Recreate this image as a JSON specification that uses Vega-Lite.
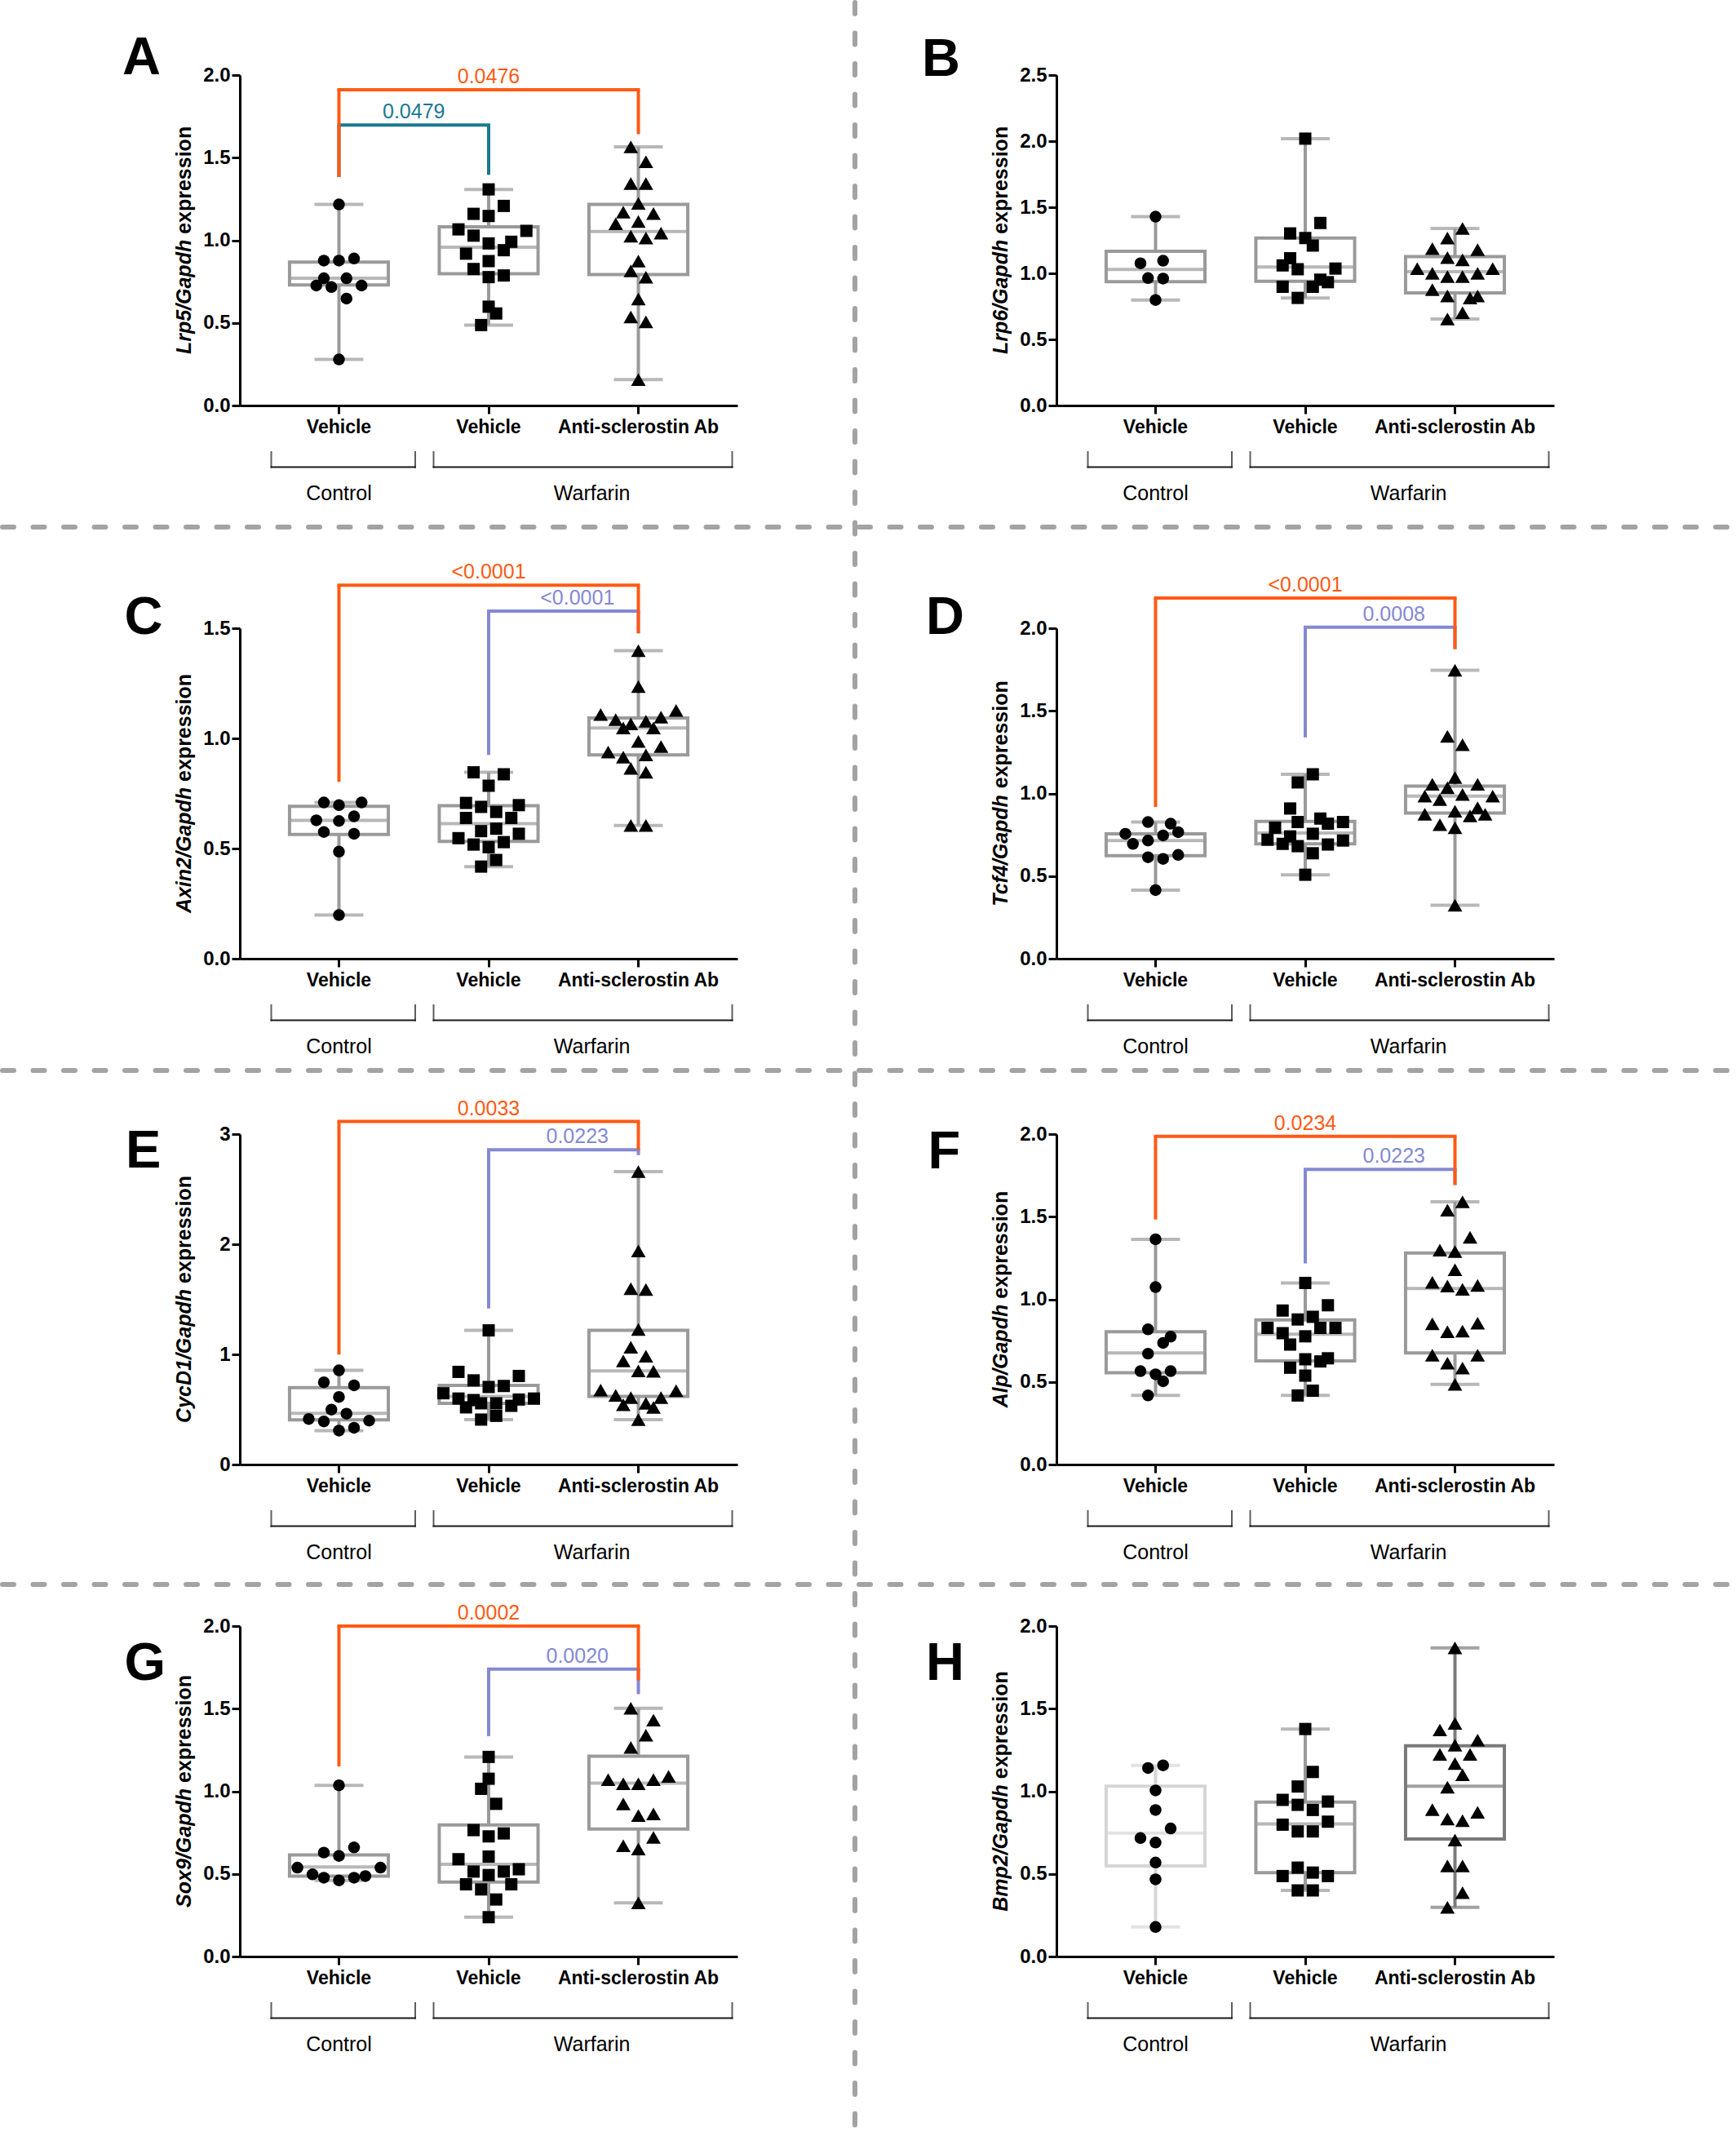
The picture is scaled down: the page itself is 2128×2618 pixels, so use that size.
{
"$schema":"https://vega.github.io/schema/vega-lite/v6.json",
"padding":0,
"background":"white",
"columns":2,
"spacing":{"row":0,"column":391},
"bounds":"flush",
"datasets":{
"cats":[{"c":"CV","w":"WV"}],
"box":[
{"p":"A","g":"CV","min":0.279,"q1":0.73,"med":0.77,"q3":0.868,"max":1.217},
{"p":"A","g":"WV","min":0.487,"q1":0.798,"med":0.958,"q3":1.081,"max":1.308},
{"p":"A","g":"WA","min":0.157,"q1":0.792,"med":1.053,"q3":1.217,"max":1.566},
{"p":"B","g":"CV","min":0.798,"q1":0.936,"med":1.029,"q3":1.167,"max":1.429},
{"p":"B","g":"WV","min":0.814,"q1":0.94,"med":1.048,"q3":1.267,"max":2.019},
{"p":"B","g":"WA","min":0.655,"q1":0.852,"med":1.012,"q3":1.126,"max":1.34},
{"p":"C","g":"CV","min":0.198,"q1":0.564,"med":0.628,"q3":0.692,"max":0.709},
{"p":"C","g":"WV","min":0.418,"q1":0.532,"med":0.613,"q3":0.694,"max":0.846},
{"p":"C","g":"WA","min":0.605,"q1":0.925,"med":1.047,"q3":1.093,"max":1.398},
{"p":"D","g":"CV","min":0.415,"q1":0.624,"med":0.715,"q3":0.756,"max":0.827},
{"p":"D","g":"WV","min":0.508,"q1":0.695,"med":0.76,"q3":0.831,"max":1.116},
{"p":"D","g":"WA","min":0.323,"q1":0.882,"med":0.984,"q3":1.045,"max":1.746},
{"p":"E","g":"CV","min":0.308,"q1":0.405,"med":0.465,"q3":0.699,"max":0.855},
{"p":"E","g":"WV","min":0.408,"q1":0.556,"med":0.619,"q3":0.719,"max":1.218},
{"p":"E","g":"WA","min":0.408,"q1":0.619,"med":0.85,"q3":1.218,"max":2.66},
{"p":"F","g":"CV","min":0.418,"q1":0.555,"med":0.675,"q3":0.804,"max":1.363},
{"p":"F","g":"WV","min":0.418,"q1":0.627,"med":0.789,"q3":0.875,"max":1.099},
{"p":"F","g":"WA","min":0.485,"q1":0.675,"med":1.065,"q3":1.28,"max":1.59},
{"p":"G","g":"CV","min":0.461,"q1":0.487,"med":0.542,"q3":0.615,"max":1.036},
{"p":"G","g":"WV","min":0.238,"q1":0.451,"med":0.558,"q3":0.796,"max":1.208},
{"p":"G","g":"WA","min":0.325,"q1":0.772,"med":1.05,"q3":1.212,"max":1.503},
{"p":"H","g":"CV","min":0.179,"q1":0.548,"med":0.747,"q3":1.031,"max":1.157},
{"p":"H","g":"WV","min":0.4,"q1":0.508,"med":0.802,"q3":0.934,"max":1.377},
{"p":"H","g":"WA","min":0.298,"q1":0.711,"med":1.031,"q3":1.275,"max":1.868}
],
"sig":[
{"p":"A","c":"cv","from":"CV","to":"WV","top":1.698,"l1":1.383,"l2":1.396,"pv":"0.0479"},
{"p":"A","c":"ca","from":"CV","to":"WA","top":1.911,"l1":1.383,"l2":1.642,"pv":"0.0476"},
{"p":"C","c":"va","from":"WV","to":"WA","top":1.578,"l1":0.925,"l2":1.477,"pv":"<0.0001"},
{"p":"C","c":"ca","from":"CV","to":"WA","top":1.695,"l1":0.803,"l2":1.477,"pv":"<0.0001"},
{"p":"D","c":"va","from":"WV","to":"WA","top":2.006,"l1":1.339,"l2":1.874,"pv":"0.0008"},
{"p":"D","c":"ca","from":"CV","to":"WA","top":2.183,"l1":0.919,"l2":1.874,"pv":"<0.0001"},
{"p":"E","c":"va","from":"WV","to":"WA","top":2.857,"l1":1.417,"l2":2.809,"pv":"0.0223"},
{"p":"E","c":"ca","from":"CV","to":"WA","top":3.114,"l1":0.998,"l2":2.857,"pv":"0.0033"},
{"p":"F","c":"va","from":"WV","to":"WA","top":1.787,"l1":1.217,"l2":1.692,"pv":"0.0223"},
{"p":"F","c":"ca","from":"CV","to":"WA","top":1.987,"l1":1.483,"l2":1.692,"pv":"0.0234"},
{"p":"G","c":"va","from":"WV","to":"WA","top":1.74,"l1":1.334,"l2":1.588,"pv":"0.0020"},
{"p":"G","c":"ca","from":"CV","to":"WA","top":2.0,"l1":1.151,"l2":1.671,"pv":"0.0002"}
],
"pts":[
{"p":"A","g":"CV","v":1.217,"l":0},{"p":"A","g":"CV","v":0.877,"l":-2},{"p":"A","g":"CV","v":0.877,"l":0},{"p":"A","g":"CV","v":0.89,"l":2},{"p":"A","g":"CV","v":0.77,"l":-2},{"p":"A","g":"CV","v":0.77,"l":1},{"p":"A","g":"CV","v":0.726,"l":-3},{"p":"A","g":"CV","v":0.717,"l":-1},{"p":"A","g":"CV","v":0.726,"l":3},{"p":"A","g":"CV","v":0.647,"l":1},{"p":"A","g":"CV","v":0.279,"l":0},
{"p":"A","g":"WV","v":1.308,"l":0},{"p":"A","g":"WV","v":1.208,"l":2},{"p":"A","g":"WV","v":1.16,"l":-2},{"p":"A","g":"WV","v":1.147,"l":0},{"p":"A","g":"WV","v":1.066,"l":-4},{"p":"A","g":"WV","v":1.057,"l":5},{"p":"A","g":"WV","v":1.028,"l":-2},{"p":"A","g":"WV","v":0.981,"l":0},{"p":"A","g":"WV","v":0.991,"l":3},{"p":"A","g":"WV","v":0.919,"l":-3},{"p":"A","g":"WV","v":0.94,"l":2},{"p":"A","g":"WV","v":0.874,"l":0},{"p":"A","g":"WV","v":0.826,"l":-2},{"p":"A","g":"WV","v":0.777,"l":0},{"p":"A","g":"WV","v":0.787,"l":2},{"p":"A","g":"WV","v":0.598,"l":0},{"p":"A","g":"WV","v":0.557,"l":1},{"p":"A","g":"WV","v":0.487,"l":-1},
{"p":"A","g":"WA","v":1.566,"l":-1},{"p":"A","g":"WA","v":1.475,"l":1},{"p":"A","g":"WA","v":1.343,"l":-1},{"p":"A","g":"WA","v":1.343,"l":1},{"p":"A","g":"WA","v":1.223,"l":0},{"p":"A","g":"WA","v":1.17,"l":-2},{"p":"A","g":"WA","v":1.162,"l":2},{"p":"A","g":"WA","v":1.1,"l":-3},{"p":"A","g":"WA","v":1.113,"l":0},{"p":"A","g":"WA","v":1.025,"l":-1},{"p":"A","g":"WA","v":1.013,"l":1},{"p":"A","g":"WA","v":1.043,"l":3},{"p":"A","g":"WA","v":0.874,"l":0},{"p":"A","g":"WA","v":0.815,"l":-1},{"p":"A","g":"WA","v":0.777,"l":1},{"p":"A","g":"WA","v":0.645,"l":0},{"p":"A","g":"WA","v":0.536,"l":-1},{"p":"A","g":"WA","v":0.506,"l":1},{"p":"A","g":"WA","v":0.157,"l":0},
{"p":"B","g":"CV","v":1.429,"l":0},{"p":"B","g":"CV","v":1.076,"l":-2},{"p":"B","g":"CV","v":1.095,"l":1},{"p":"B","g":"CV","v":0.964,"l":-1},{"p":"B","g":"CV","v":0.96,"l":1},{"p":"B","g":"CV","v":0.798,"l":0},
{"p":"B","g":"WV","v":2.019,"l":0},{"p":"B","g":"WV","v":1.381,"l":2},{"p":"B","g":"WV","v":1.302,"l":-2},{"p":"B","g":"WV","v":1.267,"l":0},{"p":"B","g":"WV","v":1.21,"l":1},{"p":"B","g":"WV","v":1.114,"l":-2},{"p":"B","g":"WV","v":1.06,"l":-3},{"p":"B","g":"WV","v":1.036,"l":4},{"p":"B","g":"WV","v":1.031,"l":-1},{"p":"B","g":"WV","v":0.952,"l":2},{"p":"B","g":"WV","v":0.933,"l":3},{"p":"B","g":"WV","v":0.898,"l":-3},{"p":"B","g":"WV","v":0.898,"l":1},{"p":"B","g":"WV","v":0.814,"l":-1},
{"p":"B","g":"WA","v":1.34,"l":1},{"p":"B","g":"WA","v":1.267,"l":-1},{"p":"B","g":"WA","v":1.186,"l":-3},{"p":"B","g":"WA","v":1.179,"l":3},{"p":"B","g":"WA","v":1.119,"l":-1},{"p":"B","g":"WA","v":1.102,"l":1},{"p":"B","g":"WA","v":1.036,"l":-5},{"p":"B","g":"WA","v":1.036,"l":5},{"p":"B","g":"WA","v":1.0,"l":-3},{"p":"B","g":"WA","v":1.0,"l":3},{"p":"B","g":"WA","v":0.976,"l":-1},{"p":"B","g":"WA","v":0.976,"l":1},{"p":"B","g":"WA","v":0.876,"l":-3},{"p":"B","g":"WA","v":0.829,"l":-1},{"p":"B","g":"WA","v":0.829,"l":3},{"p":"B","g":"WA","v":0.814,"l":2},{"p":"B","g":"WA","v":0.702,"l":1},{"p":"B","g":"WA","v":0.655,"l":-1},
{"p":"C","g":"CV","v":0.709,"l":-2},{"p":"C","g":"CV","v":0.697,"l":0},{"p":"C","g":"CV","v":0.709,"l":3},{"p":"C","g":"CV","v":0.646,"l":2},{"p":"C","g":"CV","v":0.628,"l":-3},{"p":"C","g":"CV","v":0.625,"l":0},{"p":"C","g":"CV","v":0.575,"l":-2},{"p":"C","g":"CV","v":0.567,"l":2},{"p":"C","g":"CV","v":0.486,"l":0},{"p":"C","g":"CV","v":0.198,"l":0},
{"p":"C","g":"WV","v":0.846,"l":-2},{"p":"C","g":"WV","v":0.837,"l":2},{"p":"C","g":"WV","v":0.785,"l":0},{"p":"C","g":"WV","v":0.707,"l":-3},{"p":"C","g":"WV","v":0.697,"l":4},{"p":"C","g":"WV","v":0.689,"l":-1},{"p":"C","g":"WV","v":0.666,"l":1},{"p":"C","g":"WV","v":0.639,"l":-3},{"p":"C","g":"WV","v":0.639,"l":3},{"p":"C","g":"WV","v":0.579,"l":-1},{"p":"C","g":"WV","v":0.59,"l":1},{"p":"C","g":"WV","v":0.567,"l":4},{"p":"C","g":"WV","v":0.547,"l":-4},{"p":"C","g":"WV","v":0.529,"l":2},{"p":"C","g":"WV","v":0.518,"l":-2},{"p":"C","g":"WV","v":0.506,"l":0},{"p":"C","g":"WV","v":0.448,"l":1},{"p":"C","g":"WV","v":0.418,"l":-1},
{"p":"C","g":"WA","v":1.398,"l":0},{"p":"C","g":"WA","v":1.235,"l":0},{"p":"C","g":"WA","v":1.108,"l":-5},{"p":"C","g":"WA","v":1.127,"l":5},{"p":"C","g":"WA","v":1.085,"l":-3},{"p":"C","g":"WA","v":1.078,"l":1},{"p":"C","g":"WA","v":1.096,"l":3},{"p":"C","g":"WA","v":1.066,"l":-1},{"p":"C","g":"WA","v":1.047,"l":-2},{"p":"C","g":"WA","v":1.047,"l":2},{"p":"C","g":"WA","v":0.986,"l":0},{"p":"C","g":"WA","v":0.963,"l":3},{"p":"C","g":"WA","v":0.938,"l":-4},{"p":"C","g":"WA","v":0.915,"l":-2},{"p":"C","g":"WA","v":0.925,"l":1},{"p":"C","g":"WA","v":0.864,"l":-1},{"p":"C","g":"WA","v":0.846,"l":1},{"p":"C","g":"WA","v":0.605,"l":-1},{"p":"C","g":"WA","v":0.605,"l":1},
{"p":"D","g":"CV","v":0.827,"l":-1},{"p":"D","g":"CV","v":0.817,"l":2},{"p":"D","g":"CV","v":0.756,"l":-4},{"p":"D","g":"CV","v":0.746,"l":1},{"p":"D","g":"CV","v":0.766,"l":3},{"p":"D","g":"CV","v":0.695,"l":-3},{"p":"D","g":"CV","v":0.715,"l":-1},{"p":"D","g":"CV","v":0.628,"l":3},{"p":"D","g":"CV","v":0.614,"l":-1},{"p":"D","g":"CV","v":0.604,"l":1},{"p":"D","g":"CV","v":0.415,"l":0},
{"p":"D","g":"WV","v":1.116,"l":1},{"p":"D","g":"WV","v":1.067,"l":-1},{"p":"D","g":"WV","v":0.909,"l":-2},{"p":"D","g":"WV","v":0.827,"l":-1},{"p":"D","g":"WV","v":0.848,"l":2},{"p":"D","g":"WV","v":0.817,"l":3},{"p":"D","g":"WV","v":0.827,"l":5},{"p":"D","g":"WV","v":0.793,"l":-4},{"p":"D","g":"WV","v":0.74,"l":-2},{"p":"D","g":"WV","v":0.756,"l":1},{"p":"D","g":"WV","v":0.72,"l":-5},{"p":"D","g":"WV","v":0.715,"l":5},{"p":"D","g":"WV","v":0.695,"l":-3},{"p":"D","g":"WV","v":0.691,"l":3},{"p":"D","g":"WV","v":0.681,"l":-1},{"p":"D","g":"WV","v":0.638,"l":1},{"p":"D","g":"WV","v":0.508,"l":0},
{"p":"D","g":"WA","v":1.746,"l":0},{"p":"D","g":"WA","v":1.346,"l":-1},{"p":"D","g":"WA","v":1.295,"l":1},{"p":"D","g":"WA","v":1.096,"l":0},{"p":"D","g":"WA","v":1.055,"l":-3},{"p":"D","g":"WA","v":1.055,"l":3},{"p":"D","g":"WA","v":1.035,"l":-1},{"p":"D","g":"WA","v":0.984,"l":-4},{"p":"D","g":"WA","v":0.994,"l":1},{"p":"D","g":"WA","v":0.984,"l":5},{"p":"D","g":"WA","v":0.963,"l":-2},{"p":"D","g":"WA","v":0.913,"l":3},{"p":"D","g":"WA","v":0.892,"l":0},{"p":"D","g":"WA","v":0.874,"l":-4},{"p":"D","g":"WA","v":0.864,"l":2},{"p":"D","g":"WA","v":0.874,"l":4},{"p":"D","g":"WA","v":0.811,"l":-2},{"p":"D","g":"WA","v":0.793,"l":0},{"p":"D","g":"WA","v":0.323,"l":0},
{"p":"E","g":"CV","v":0.855,"l":0},{"p":"E","g":"CV","v":0.747,"l":-2},{"p":"E","g":"CV","v":0.719,"l":2},{"p":"E","g":"CV","v":0.613,"l":0},{"p":"E","g":"CV","v":0.499,"l":-1},{"p":"E","g":"CV","v":0.462,"l":1},{"p":"E","g":"CV","v":0.413,"l":-4},{"p":"E","g":"CV","v":0.391,"l":-2},{"p":"E","g":"CV","v":0.399,"l":4},{"p":"E","g":"CV","v":0.308,"l":0},{"p":"E","g":"CV","v":0.334,"l":2},
{"p":"E","g":"WV","v":1.218,"l":0},{"p":"E","g":"WV","v":0.841,"l":-4},{"p":"E","g":"WV","v":0.764,"l":-2},{"p":"E","g":"WV","v":0.804,"l":4},{"p":"E","g":"WV","v":0.704,"l":0},{"p":"E","g":"WV","v":0.713,"l":2},{"p":"E","g":"WV","v":0.647,"l":-6},{"p":"E","g":"WV","v":0.599,"l":-4},{"p":"E","g":"WV","v":0.585,"l":-2},{"p":"E","g":"WV","v":0.599,"l":6},{"p":"E","g":"WV","v":0.59,"l":4},{"p":"E","g":"WV","v":0.556,"l":-1},{"p":"E","g":"WV","v":0.556,"l":1},{"p":"E","g":"WV","v":0.519,"l":-3},{"p":"E","g":"WV","v":0.533,"l":3},{"p":"E","g":"WV","v":0.408,"l":-1},{"p":"E","g":"WV","v":0.442,"l":1},
{"p":"E","g":"WA","v":2.66,"l":0},{"p":"E","g":"WA","v":1.939,"l":0},{"p":"E","g":"WA","v":1.597,"l":-1},{"p":"E","g":"WA","v":1.588,"l":1},{"p":"E","g":"WA","v":1.226,"l":0},{"p":"E","g":"WA","v":1.064,"l":-1},{"p":"E","g":"WA","v":0.984,"l":1},{"p":"E","g":"WA","v":0.941,"l":-2},{"p":"E","g":"WA","v":0.85,"l":0},{"p":"E","g":"WA","v":0.847,"l":2},{"p":"E","g":"WA","v":0.676,"l":-5},{"p":"E","g":"WA","v":0.67,"l":5},{"p":"E","g":"WA","v":0.627,"l":-3},{"p":"E","g":"WA","v":0.607,"l":-1},{"p":"E","g":"WA","v":0.607,"l":3},{"p":"E","g":"WA","v":0.542,"l":-2},{"p":"E","g":"WA","v":0.556,"l":1},{"p":"E","g":"WA","v":0.519,"l":2},{"p":"E","g":"WA","v":0.408,"l":0},
{"p":"F","g":"CV","v":1.363,"l":0},{"p":"F","g":"CV","v":1.074,"l":0},{"p":"F","g":"CV","v":0.818,"l":-1},{"p":"F","g":"CV","v":0.774,"l":2},{"p":"F","g":"CV","v":0.736,"l":1},{"p":"F","g":"CV","v":0.671,"l":-1},{"p":"F","g":"CV","v":0.565,"l":-2},{"p":"F","g":"CV","v":0.565,"l":2},{"p":"F","g":"CV","v":0.546,"l":0},{"p":"F","g":"CV","v":0.504,"l":1},{"p":"F","g":"CV","v":0.418,"l":-1},
{"p":"F","g":"WV","v":1.099,"l":0},{"p":"F","g":"WV","v":0.964,"l":3},{"p":"F","g":"WV","v":0.932,"l":-3},{"p":"F","g":"WV","v":0.894,"l":1},{"p":"F","g":"WV","v":0.878,"l":-1},{"p":"F","g":"WV","v":0.827,"l":-5},{"p":"F","g":"WV","v":0.827,"l":2},{"p":"F","g":"WV","v":0.827,"l":4},{"p":"F","g":"WV","v":0.795,"l":-3},{"p":"F","g":"WV","v":0.776,"l":0},{"p":"F","g":"WV","v":0.726,"l":-2},{"p":"F","g":"WV","v":0.643,"l":3},{"p":"F","g":"WV","v":0.637,"l":0},{"p":"F","g":"WV","v":0.624,"l":2},{"p":"F","g":"WV","v":0.586,"l":-2},{"p":"F","g":"WV","v":0.538,"l":0},{"p":"F","g":"WV","v":0.447,"l":1},{"p":"F","g":"WV","v":0.418,"l":-1},
{"p":"F","g":"WA","v":1.59,"l":1},{"p":"F","g":"WA","v":1.54,"l":-1},{"p":"F","g":"WA","v":1.375,"l":2},{"p":"F","g":"WA","v":1.298,"l":-2},{"p":"F","g":"WA","v":1.289,"l":0},{"p":"F","g":"WA","v":1.179,"l":0},{"p":"F","g":"WA","v":1.103,"l":-3},{"p":"F","g":"WA","v":1.08,"l":-1},{"p":"F","g":"WA","v":1.061,"l":1},{"p":"F","g":"WA","v":1.084,"l":3},{"p":"F","g":"WA","v":0.852,"l":-3},{"p":"F","g":"WA","v":0.856,"l":3},{"p":"F","g":"WA","v":0.804,"l":-1},{"p":"F","g":"WA","v":0.808,"l":1},{"p":"F","g":"WA","v":0.662,"l":-3},{"p":"F","g":"WA","v":0.662,"l":3},{"p":"F","g":"WA","v":0.614,"l":-1},{"p":"F","g":"WA","v":0.584,"l":1},{"p":"F","g":"WA","v":0.485,"l":0},
{"p":"G","g":"CV","v":1.036,"l":0},{"p":"G","g":"CV","v":0.66,"l":2},{"p":"G","g":"CV","v":0.629,"l":-2},{"p":"G","g":"CV","v":0.609,"l":0},{"p":"G","g":"CV","v":0.538,"l":-5.5},{"p":"G","g":"CV","v":0.538,"l":5.5},{"p":"G","g":"CV","v":0.497,"l":-3.5},{"p":"G","g":"CV","v":0.487,"l":3.5},{"p":"G","g":"CV","v":0.477,"l":-2},{"p":"G","g":"CV","v":0.477,"l":2},{"p":"G","g":"CV","v":0.461,"l":0},
{"p":"G","g":"WV","v":1.208,"l":0},{"p":"G","g":"WV","v":1.076,"l":0},{"p":"G","g":"WV","v":1.015,"l":-1},{"p":"G","g":"WV","v":0.924,"l":1},{"p":"G","g":"WV","v":0.765,"l":-2},{"p":"G","g":"WV","v":0.745,"l":2},{"p":"G","g":"WV","v":0.727,"l":0},{"p":"G","g":"WV","v":0.589,"l":-4},{"p":"G","g":"WV","v":0.605,"l":0},{"p":"G","g":"WV","v":0.514,"l":-2},{"p":"G","g":"WV","v":0.514,"l":2},{"p":"G","g":"WV","v":0.528,"l":4},{"p":"G","g":"WV","v":0.493,"l":0},{"p":"G","g":"WV","v":0.437,"l":-3},{"p":"G","g":"WV","v":0.437,"l":3},{"p":"G","g":"WV","v":0.406,"l":-1},{"p":"G","g":"WV","v":0.345,"l":1},{"p":"G","g":"WV","v":0.238,"l":0},
{"p":"G","g":"WA","v":1.503,"l":-1},{"p":"G","g":"WA","v":1.431,"l":2},{"p":"G","g":"WA","v":1.34,"l":1},{"p":"G","g":"WA","v":1.265,"l":-1},{"p":"G","g":"WA","v":1.07,"l":-4},{"p":"G","g":"WA","v":1.09,"l":4},{"p":"G","g":"WA","v":1.046,"l":-2},{"p":"G","g":"WA","v":1.046,"l":0},{"p":"G","g":"WA","v":1.07,"l":2},{"p":"G","g":"WA","v":0.924,"l":-2},{"p":"G","g":"WA","v":0.853,"l":0},{"p":"G","g":"WA","v":0.863,"l":2},{"p":"G","g":"WA","v":0.721,"l":2},{"p":"G","g":"WA","v":0.67,"l":-2},{"p":"G","g":"WA","v":0.65,"l":0},{"p":"G","g":"WA","v":0.325,"l":0},
{"p":"H","g":"CV","v":1.141,"l":-1},{"p":"H","g":"CV","v":1.157,"l":1},{"p":"H","g":"CV","v":1.005,"l":0},{"p":"H","g":"CV","v":0.887,"l":0},{"p":"H","g":"CV","v":0.775,"l":2},{"p":"H","g":"CV","v":0.717,"l":-2},{"p":"H","g":"CV","v":0.69,"l":0},{"p":"H","g":"CV","v":0.569,"l":0},{"p":"H","g":"CV","v":0.467,"l":0},{"p":"H","g":"CV","v":0.179,"l":0},
{"p":"H","g":"WV","v":1.377,"l":0},{"p":"H","g":"WV","v":1.117,"l":1},{"p":"H","g":"WV","v":1.029,"l":-1},{"p":"H","g":"WV","v":0.948,"l":-3},{"p":"H","g":"WV","v":0.938,"l":3},{"p":"H","g":"WV","v":0.918,"l":-1},{"p":"H","g":"WV","v":0.887,"l":1},{"p":"H","g":"WV","v":0.816,"l":3},{"p":"H","g":"WV","v":0.798,"l":-3},{"p":"H","g":"WV","v":0.757,"l":-1},{"p":"H","g":"WV","v":0.757,"l":1},{"p":"H","g":"WV","v":0.538,"l":-1},{"p":"H","g":"WV","v":0.487,"l":-3},{"p":"H","g":"WV","v":0.508,"l":1},{"p":"H","g":"WV","v":0.487,"l":3},{"p":"H","g":"WV","v":0.4,"l":-1},{"p":"H","g":"WV","v":0.4,"l":1},
{"p":"H","g":"WA","v":1.868,"l":0},{"p":"H","g":"WA","v":1.411,"l":0},{"p":"H","g":"WA","v":1.371,"l":-2},{"p":"H","g":"WA","v":1.279,"l":0},{"p":"H","g":"WA","v":1.31,"l":3},{"p":"H","g":"WA","v":1.224,"l":-2},{"p":"H","g":"WA","v":1.224,"l":2},{"p":"H","g":"WA","v":1.168,"l":0},{"p":"H","g":"WA","v":1.1,"l":1},{"p":"H","g":"WA","v":1.025,"l":-1},{"p":"H","g":"WA","v":0.889,"l":-3},{"p":"H","g":"WA","v":0.873,"l":3},{"p":"H","g":"WA","v":0.832,"l":-1},{"p":"H","g":"WA","v":0.822,"l":1},{"p":"H","g":"WA","v":0.705,"l":0},{"p":"H","g":"WA","v":0.548,"l":-1},{"p":"H","g":"WA","v":0.548,"l":1},{"p":"H","g":"WA","v":0.386,"l":1},{"p":"H","g":"WA","v":0.298,"l":-1}
]
},
"concat":[
{"width":610,"height":405,"resolve":{"scale":{"xOffset":"independent"}},"layer":[
{"data":{"name":"box"},"transform":[{"filter":"datum.p=='A'"}],"mark":{"type":"rule","color":"#9a9a9a","strokeWidth":4},"encoding":{"x":{"field":"g","type":"nominal","scale":{"domain":["CV","WV","WA"],"paddingInner":0,"paddingOuter":0.162},"axis":{"title":null,"labelAngle":0,"labelExpr":"datum.value=='WA'?'Anti-sclerostin Ab':'Vehicle'"}},"y":{"field":"min","type":"quantitative","scale":{"domain":[0,2],"nice":false},"axis":{"title":null,"values":[0,0.5,1,1.5,2],"format":".1f"}},"y2":{"field":"max"}}},
{"data":{"name":"box"},"transform":[{"filter":"datum.p=='A'"},{"fold":["min","max"]}],"mark":{"type":"tick","color":"#9a9a9a","size":60,"thickness":4},"encoding":{"x":{"field":"g","type":"nominal"},"y":{"field":"value","type":"quantitative"}}},
{"data":{"name":"box"},"transform":[{"filter":"datum.p=='A'"}],"mark":{"type":"bar","fill":"white","stroke":"#9a9a9a","strokeWidth":4,"width":{"band":0.66}},"encoding":{"x":{"field":"g","type":"nominal"},"y":{"field":"q1","type":"quantitative"},"y2":{"field":"q3"}}},
{"data":{"name":"box"},"transform":[{"filter":"datum.p=='A'"}],"mark":{"type":"tick","color":"#9a9a9a","size":121,"thickness":4},"encoding":{"x":{"field":"g","type":"nominal"},"y":{"field":"med","type":"quantitative"}}},
{"data":{"name":"pts"},"transform":[{"filter":"datum.p=='A'"}],"mark":{"type":"point","filled":true,"color":"black","opacity":1},"encoding":{"x":{"field":"g","type":"nominal"},"xOffset":{"field":"l","type":"quantitative","scale":{"domain":[-6,6],"range":[36.26,147.26]}},"y":{"field":"v","type":"quantitative"},"shape":{"field":"g","type":"nominal","scale":{"domain":["CV","WV","WA"],"range":["circle","square","triangle-up"]},"legend":null},"size":{"condition":[{"test":"datum.g=='CV'","value":210},{"test":"datum.g=='WV'","value":225}],"value":320}}},
{"data":{"name":"sig"},"transform":[{"filter":"datum.p=='A'"}],"mark":{"type":"rule","strokeWidth":4,"strokeCap":"square"},"encoding":{"x":{"field":"from","type":"nominal"},"x2":{"field":"to"},"y":{"field":"top","type":"quantitative"},"color":{"condition":[{"test":"datum.c=='ca'","value":"#ff5a14"},{"test":"datum.c=='cv'","value":"#1a7892"}],"value":"#8489d4"}}},
{"data":{"name":"sig"},"transform":[{"filter":"datum.p=='A'"}],"mark":{"type":"rule","strokeWidth":4},"encoding":{"x":{"field":"from","type":"nominal"},"y":{"field":"top","type":"quantitative"},"y2":{"field":"l1"},"color":{"condition":[{"test":"datum.c=='ca'","value":"#ff5a14"},{"test":"datum.c=='cv'","value":"#1a7892"}],"value":"#8489d4"}}},
{"data":{"name":"sig"},"transform":[{"filter":"datum.p=='A'"}],"mark":{"type":"rule","strokeWidth":4},"encoding":{"x":{"field":"to","type":"nominal"},"y":{"field":"top","type":"quantitative"},"y2":{"field":"l2"},"color":{"condition":[{"test":"datum.c=='ca'","value":"#ff5a14"},{"test":"datum.c=='cv'","value":"#1a7892"}],"value":"#8489d4"}}},
{"data":{"name":"sig"},"transform":[{"filter":"datum.p=='A'&&datum.c=='ca'"}],"mark":{"type":"text","fontSize":25,"baseline":"alphabetic","dy":-8},"encoding":{"x":{"field":"to","type":"nominal","bandPosition":-0.5},"y":{"field":"top","type":"quantitative"},"text":{"field":"pv"},"color":{"value":"#ff5a14"}}},
{"data":{"name":"sig"},"transform":[{"filter":"datum.p=='A'&&datum.c!='ca'"}],"mark":{"type":"text","fontSize":25,"baseline":"alphabetic","dy":-8,"dx":0},"encoding":{"x":{"field":"to","type":"nominal","bandPosition":0},"y":{"field":"top","type":"quantitative"},"text":{"field":"pv"},"color":{"condition":[{"test":"datum.c=='cv'","value":"#1a7892"}],"value":"#8489d4"}}},
{"data":{"name":"cats"},"mark":{"type":"rule","strokeWidth":2,"strokeCap":"square","color":"#1a1a1a"},"encoding":{"x":{"field":"c","type":"nominal","bandPosition":0.0478},"x2":{"field":"c","bandPosition":1.0096},"y":{"datum":-0.3728}}},
{"data":{"name":"cats"},"mark":{"type":"rule","strokeWidth":2,"strokeCap":"square","color":"#1a1a1a"},"encoding":{"x":{"field":"w","type":"nominal","bandPosition":0.1322},"x2":{"field":"w","bandPosition":2.1266},"y":{"datum":-0.3728}}},
{"data":{"name":"cats"},"mark":{"type":"tick","orient":"vertical","size":20.5,"thickness":2,"color":"#1a1a1a"},"encoding":{"x":{"field":"c","type":"nominal","bandPosition":0.0478},"y":{"datum":-0.3272}}},
{"data":{"name":"cats"},"mark":{"type":"tick","orient":"vertical","size":20.5,"thickness":2,"color":"#1a1a1a"},"encoding":{"x":{"field":"c","type":"nominal","bandPosition":1.0096},"y":{"datum":-0.3272}}},
{"data":{"name":"cats"},"mark":{"type":"tick","orient":"vertical","size":20.5,"thickness":2,"color":"#1a1a1a"},"encoding":{"x":{"field":"w","type":"nominal","bandPosition":0.1322},"y":{"datum":-0.3272}}},
{"data":{"name":"cats"},"mark":{"type":"tick","orient":"vertical","size":20.5,"thickness":2,"color":"#1a1a1a"},"encoding":{"x":{"field":"w","type":"nominal","bandPosition":2.1266},"y":{"datum":-0.3272}}},
{"data":{"name":"cats"},"mark":{"type":"text","fontSize":25,"baseline":"alphabetic"},"encoding":{"x":{"field":"c","type":"nominal","bandPosition":0.5},"y":{"datum":-0.5728},"text":{"value":"Control"}}},
{"data":{"name":"cats"},"mark":{"type":"text","fontSize":25,"baseline":"alphabetic"},"encoding":{"x":{"field":"w","type":"nominal","bandPosition":1.19},"y":{"datum":-0.5728},"text":{"value":"Warfarin"}}},
{"data":{"name":"cats"},"mark":{"type":"text","fontSize":65,"fontWeight":"bold","align":"left","baseline":"alphabetic"},"encoding":{"x":{"field":"c","type":"nominal","bandPosition":-0.9467},"y":{"datum":2.0025},"text":{"value":"A"}}},
{"data":{"name":"cats"},"mark":{"type":"text","fontSize":25,"fontWeight":"bold","fontStyle":"italic","angle":270,"align":"left","baseline":"alphabetic","dx":-139.6},"encoding":{"x":{"field":"c","type":"nominal","bandPosition":-0.489},"y":{"datum":1},"text":{"value":"Lrp5/Gapdh"}}},
{"data":{"name":"cats"},"mark":{"type":"text","fontSize":25,"fontWeight":"bold","angle":270,"align":"left","baseline":"alphabetic","dx":7.65},"encoding":{"x":{"field":"c","type":"nominal","bandPosition":-0.489},"y":{"datum":1},"text":{"value":"expression"}}}
]},
{"width":610,"height":405,"resolve":{"scale":{"xOffset":"independent"}},"layer":[
{"data":{"name":"box"},"transform":[{"filter":"datum.p=='B'"}],"mark":{"type":"rule","color":"#9a9a9a","strokeWidth":4},"encoding":{"x":{"field":"g","type":"nominal","scale":{"domain":["CV","WV","WA"],"paddingInner":0,"paddingOuter":0.162},"axis":{"title":null,"labelAngle":0,"labelExpr":"datum.value=='WA'?'Anti-sclerostin Ab':'Vehicle'"}},"y":{"field":"min","type":"quantitative","scale":{"domain":[0,2.5],"nice":false},"axis":{"title":null,"values":[0,0.5,1,1.5,2,2.5],"format":".1f"}},"y2":{"field":"max"}}},
{"data":{"name":"box"},"transform":[{"filter":"datum.p=='B'"},{"fold":["min","max"]}],"mark":{"type":"tick","color":"#9a9a9a","size":60,"thickness":4},"encoding":{"x":{"field":"g","type":"nominal"},"y":{"field":"value","type":"quantitative"}}},
{"data":{"name":"box"},"transform":[{"filter":"datum.p=='B'"}],"mark":{"type":"bar","fill":"white","stroke":"#9a9a9a","strokeWidth":4,"width":{"band":0.66}},"encoding":{"x":{"field":"g","type":"nominal"},"y":{"field":"q1","type":"quantitative"},"y2":{"field":"q3"}}},
{"data":{"name":"box"},"transform":[{"filter":"datum.p=='B'"}],"mark":{"type":"tick","color":"#9a9a9a","size":121,"thickness":4},"encoding":{"x":{"field":"g","type":"nominal"},"y":{"field":"med","type":"quantitative"}}},
{"data":{"name":"pts"},"transform":[{"filter":"datum.p=='B'"}],"mark":{"type":"point","filled":true,"color":"black","opacity":1},"encoding":{"x":{"field":"g","type":"nominal"},"xOffset":{"field":"l","type":"quantitative","scale":{"domain":[-6,6],"range":[36.26,147.26]}},"y":{"field":"v","type":"quantitative"},"shape":{"field":"g","type":"nominal","scale":{"domain":["CV","WV","WA"],"range":["circle","square","triangle-up"]},"legend":null},"size":{"condition":[{"test":"datum.g=='CV'","value":210},{"test":"datum.g=='WV'","value":225}],"value":320}}},
{"data":{"name":"cats"},"mark":{"type":"rule","strokeWidth":2,"strokeCap":"square","color":"#1a1a1a"},"encoding":{"x":{"field":"c","type":"nominal","bandPosition":0.0478},"x2":{"field":"c","bandPosition":1.0096},"y":{"datum":-0.466}}},
{"data":{"name":"cats"},"mark":{"type":"rule","strokeWidth":2,"strokeCap":"square","color":"#1a1a1a"},"encoding":{"x":{"field":"w","type":"nominal","bandPosition":0.1322},"x2":{"field":"w","bandPosition":2.1266},"y":{"datum":-0.466}}},
{"data":{"name":"cats"},"mark":{"type":"tick","orient":"vertical","size":20.5,"thickness":2,"color":"#1a1a1a"},"encoding":{"x":{"field":"c","type":"nominal","bandPosition":0.0478},"y":{"datum":-0.409}}},
{"data":{"name":"cats"},"mark":{"type":"tick","orient":"vertical","size":20.5,"thickness":2,"color":"#1a1a1a"},"encoding":{"x":{"field":"c","type":"nominal","bandPosition":1.0096},"y":{"datum":-0.409}}},
{"data":{"name":"cats"},"mark":{"type":"tick","orient":"vertical","size":20.5,"thickness":2,"color":"#1a1a1a"},"encoding":{"x":{"field":"w","type":"nominal","bandPosition":0.1322},"y":{"datum":-0.409}}},
{"data":{"name":"cats"},"mark":{"type":"tick","orient":"vertical","size":20.5,"thickness":2,"color":"#1a1a1a"},"encoding":{"x":{"field":"w","type":"nominal","bandPosition":2.1266},"y":{"datum":-0.409}}},
{"data":{"name":"cats"},"mark":{"type":"text","fontSize":25,"baseline":"alphabetic"},"encoding":{"x":{"field":"c","type":"nominal","bandPosition":0.5},"y":{"datum":-0.716},"text":{"value":"Control"}}},
{"data":{"name":"cats"},"mark":{"type":"text","fontSize":25,"baseline":"alphabetic"},"encoding":{"x":{"field":"w","type":"nominal","bandPosition":1.19},"y":{"datum":-0.716},"text":{"value":"Warfarin"}}},
{"data":{"name":"cats"},"mark":{"type":"text","fontSize":65,"fontWeight":"bold","align":"left","baseline":"alphabetic"},"encoding":{"x":{"field":"c","type":"nominal","bandPosition":-1.0611},"y":{"datum":2.491},"text":{"value":"B"}}},
{"data":{"name":"cats"},"mark":{"type":"text","fontSize":25,"fontWeight":"bold","fontStyle":"italic","angle":270,"align":"left","baseline":"alphabetic","dx":-139.6},"encoding":{"x":{"field":"c","type":"nominal","bandPosition":-0.489},"y":{"datum":1.25},"text":{"value":"Lrp6/Gapdh"}}},
{"data":{"name":"cats"},"mark":{"type":"text","fontSize":25,"fontWeight":"bold","angle":270,"align":"left","baseline":"alphabetic","dx":7.65},"encoding":{"x":{"field":"c","type":"nominal","bandPosition":-0.489},"y":{"datum":1.25},"text":{"value":"expression"}}}
]},
{"width":1,"height":273,"data":{"values":[{}]},"layer":[
{"mark":{"type":"rule","color":"#a3a3a3","strokeWidth":6,"strokeDash":[14,23.5],"strokeCap":"round"},"encoding":{"x":{"datum":1048,"type":"quantitative","scale":{"domain":[294,295],"range":[0,1],"zero":false,"nice":false},"axis":null},"y":{"datum":3,"type":"quantitative","scale":{"domain":[497,770],"range":[0,273],"zero":false,"nice":false},"axis":null},"y2":{"datum":2618}}},
{"mark":{"type":"rule","color":"#a3a3a3","strokeWidth":6,"strokeDash":[14,23.5],"strokeCap":"round"},"encoding":{"x":{"datum":3,"type":"quantitative","scale":{"domain":[294,295],"range":[0,1],"zero":false,"nice":false},"axis":null},"x2":{"datum":2128},"y":{"datum":646,"type":"quantitative","scale":{"domain":[497,770],"range":[0,273],"zero":false,"nice":false},"axis":null}}},
{"mark":{"type":"rule","color":"#a3a3a3","strokeWidth":6,"strokeDash":[14,23.5],"strokeCap":"round"},"encoding":{"x":{"datum":3,"type":"quantitative","scale":{"domain":[294,295],"range":[0,1],"zero":false,"nice":false},"axis":null},"x2":{"datum":2128},"y":{"datum":1312,"type":"quantitative","scale":{"domain":[497,770],"range":[0,273],"zero":false,"nice":false},"axis":null}}},
{"mark":{"type":"rule","color":"#a3a3a3","strokeWidth":6,"strokeDash":[14,23.5],"strokeCap":"round"},"encoding":{"x":{"datum":3,"type":"quantitative","scale":{"domain":[294,295],"range":[0,1],"zero":false,"nice":false},"axis":null},"x2":{"datum":2128},"y":{"datum":1942,"type":"quantitative","scale":{"domain":[497,770],"range":[0,273],"zero":false,"nice":false},"axis":null}}}
]},
{"width":1,"height":273,"data":{"values":[{}]},"mark":{"type":"text"},"encoding":{"text":{"value":""}}},
{"width":610,"height":405,"resolve":{"scale":{"xOffset":"independent"}},"layer":[
{"data":{"name":"box"},"transform":[{"filter":"datum.p=='C'"}],"mark":{"type":"rule","color":"#9a9a9a","strokeWidth":4},"encoding":{"x":{"field":"g","type":"nominal","scale":{"domain":["CV","WV","WA"],"paddingInner":0,"paddingOuter":0.162},"axis":{"title":null,"labelAngle":0,"labelExpr":"datum.value=='WA'?'Anti-sclerostin Ab':'Vehicle'"}},"y":{"field":"min","type":"quantitative","scale":{"domain":[0,1.5],"nice":false},"axis":{"title":null,"values":[0,0.5,1,1.5],"format":".1f"}},"y2":{"field":"max"}}},
{"data":{"name":"box"},"transform":[{"filter":"datum.p=='C'"},{"fold":["min","max"]}],"mark":{"type":"tick","color":"#9a9a9a","size":60,"thickness":4},"encoding":{"x":{"field":"g","type":"nominal"},"y":{"field":"value","type":"quantitative"}}},
{"data":{"name":"box"},"transform":[{"filter":"datum.p=='C'"}],"mark":{"type":"bar","fill":"white","stroke":"#9a9a9a","strokeWidth":4,"width":{"band":0.66}},"encoding":{"x":{"field":"g","type":"nominal"},"y":{"field":"q1","type":"quantitative"},"y2":{"field":"q3"}}},
{"data":{"name":"box"},"transform":[{"filter":"datum.p=='C'"}],"mark":{"type":"tick","color":"#9a9a9a","size":121,"thickness":4},"encoding":{"x":{"field":"g","type":"nominal"},"y":{"field":"med","type":"quantitative"}}},
{"data":{"name":"pts"},"transform":[{"filter":"datum.p=='C'"}],"mark":{"type":"point","filled":true,"color":"black","opacity":1},"encoding":{"x":{"field":"g","type":"nominal"},"xOffset":{"field":"l","type":"quantitative","scale":{"domain":[-6,6],"range":[36.26,147.26]}},"y":{"field":"v","type":"quantitative"},"shape":{"field":"g","type":"nominal","scale":{"domain":["CV","WV","WA"],"range":["circle","square","triangle-up"]},"legend":null},"size":{"condition":[{"test":"datum.g=='CV'","value":210},{"test":"datum.g=='WV'","value":225}],"value":320}}},
{"data":{"name":"sig"},"transform":[{"filter":"datum.p=='C'"}],"mark":{"type":"rule","strokeWidth":4,"strokeCap":"square"},"encoding":{"x":{"field":"from","type":"nominal"},"x2":{"field":"to"},"y":{"field":"top","type":"quantitative"},"color":{"condition":[{"test":"datum.c=='ca'","value":"#ff5a14"},{"test":"datum.c=='cv'","value":"#1a7892"}],"value":"#8489d4"}}},
{"data":{"name":"sig"},"transform":[{"filter":"datum.p=='C'"}],"mark":{"type":"rule","strokeWidth":4},"encoding":{"x":{"field":"from","type":"nominal"},"y":{"field":"top","type":"quantitative"},"y2":{"field":"l1"},"color":{"condition":[{"test":"datum.c=='ca'","value":"#ff5a14"},{"test":"datum.c=='cv'","value":"#1a7892"}],"value":"#8489d4"}}},
{"data":{"name":"sig"},"transform":[{"filter":"datum.p=='C'"}],"mark":{"type":"rule","strokeWidth":4},"encoding":{"x":{"field":"to","type":"nominal"},"y":{"field":"top","type":"quantitative"},"y2":{"field":"l2"},"color":{"condition":[{"test":"datum.c=='ca'","value":"#ff5a14"},{"test":"datum.c=='cv'","value":"#1a7892"}],"value":"#8489d4"}}},
{"data":{"name":"sig"},"transform":[{"filter":"datum.p=='C'&&datum.c=='ca'"}],"mark":{"type":"text","fontSize":25,"baseline":"alphabetic","dy":-8},"encoding":{"x":{"field":"to","type":"nominal","bandPosition":-0.5},"y":{"field":"top","type":"quantitative"},"text":{"field":"pv"},"color":{"value":"#ff5a14"}}},
{"data":{"name":"sig"},"transform":[{"filter":"datum.p=='C'&&datum.c!='ca'"}],"mark":{"type":"text","fontSize":25,"baseline":"alphabetic","dy":-8,"dx":17},"encoding":{"x":{"field":"to","type":"nominal","bandPosition":0},"y":{"field":"top","type":"quantitative"},"text":{"field":"pv"},"color":{"value":"#8489d4"}}},
{"data":{"name":"cats"},"mark":{"type":"rule","strokeWidth":2,"strokeCap":"square","color":"#1a1a1a"},"encoding":{"x":{"field":"c","type":"nominal","bandPosition":0.0478},"x2":{"field":"c","bandPosition":1.0096},"y":{"datum":-0.2796}}},
{"data":{"name":"cats"},"mark":{"type":"rule","strokeWidth":2,"strokeCap":"square","color":"#1a1a1a"},"encoding":{"x":{"field":"w","type":"nominal","bandPosition":0.1322},"x2":{"field":"w","bandPosition":2.1266},"y":{"datum":-0.2796}}},
{"data":{"name":"cats"},"mark":{"type":"tick","orient":"vertical","size":20.5,"thickness":2,"color":"#1a1a1a"},"encoding":{"x":{"field":"c","type":"nominal","bandPosition":0.0478},"y":{"datum":-0.2454}}},
{"data":{"name":"cats"},"mark":{"type":"tick","orient":"vertical","size":20.5,"thickness":2,"color":"#1a1a1a"},"encoding":{"x":{"field":"c","type":"nominal","bandPosition":1.0096},"y":{"datum":-0.2454}}},
{"data":{"name":"cats"},"mark":{"type":"tick","orient":"vertical","size":20.5,"thickness":2,"color":"#1a1a1a"},"encoding":{"x":{"field":"w","type":"nominal","bandPosition":0.1322},"y":{"datum":-0.2454}}},
{"data":{"name":"cats"},"mark":{"type":"tick","orient":"vertical","size":20.5,"thickness":2,"color":"#1a1a1a"},"encoding":{"x":{"field":"w","type":"nominal","bandPosition":2.1266},"y":{"datum":-0.2454}}},
{"data":{"name":"cats"},"mark":{"type":"text","fontSize":25,"baseline":"alphabetic"},"encoding":{"x":{"field":"c","type":"nominal","bandPosition":0.5},"y":{"datum":-0.4296},"text":{"value":"Control"}}},
{"data":{"name":"cats"},"mark":{"type":"text","fontSize":25,"baseline":"alphabetic"},"encoding":{"x":{"field":"w","type":"nominal","bandPosition":1.19},"y":{"datum":-0.4296},"text":{"value":"Warfarin"}}},
{"data":{"name":"cats"},"mark":{"type":"text","fontSize":65,"fontWeight":"bold","align":"left","baseline":"alphabetic"},"encoding":{"x":{"field":"c","type":"nominal","bandPosition":-0.9331},"y":{"datum":1.474},"text":{"value":"C"}}},
{"data":{"name":"cats"},"mark":{"type":"text","fontSize":25,"fontWeight":"bold","fontStyle":"italic","angle":270,"align":"left","baseline":"alphabetic","dx":-146.6},"encoding":{"x":{"field":"c","type":"nominal","bandPosition":-0.489},"y":{"datum":0.75},"text":{"value":"Axin2/Gapdh"}}},
{"data":{"name":"cats"},"mark":{"type":"text","fontSize":25,"fontWeight":"bold","angle":270,"align":"left","baseline":"alphabetic","dx":14.55},"encoding":{"x":{"field":"c","type":"nominal","bandPosition":-0.489},"y":{"datum":0.75},"text":{"value":"expression"}}}
]},
{"width":610,"height":405,"resolve":{"scale":{"xOffset":"independent"}},"layer":[
{"data":{"name":"box"},"transform":[{"filter":"datum.p=='D'"}],"mark":{"type":"rule","color":"#9a9a9a","strokeWidth":4},"encoding":{"x":{"field":"g","type":"nominal","scale":{"domain":["CV","WV","WA"],"paddingInner":0,"paddingOuter":0.162},"axis":{"title":null,"labelAngle":0,"labelExpr":"datum.value=='WA'?'Anti-sclerostin Ab':'Vehicle'"}},"y":{"field":"min","type":"quantitative","scale":{"domain":[0,2],"nice":false},"axis":{"title":null,"values":[0,0.5,1,1.5,2],"format":".1f"}},"y2":{"field":"max"}}},
{"data":{"name":"box"},"transform":[{"filter":"datum.p=='D'"},{"fold":["min","max"]}],"mark":{"type":"tick","color":"#9a9a9a","size":60,"thickness":4},"encoding":{"x":{"field":"g","type":"nominal"},"y":{"field":"value","type":"quantitative"}}},
{"data":{"name":"box"},"transform":[{"filter":"datum.p=='D'"}],"mark":{"type":"bar","fill":"white","stroke":"#9a9a9a","strokeWidth":4,"width":{"band":0.66}},"encoding":{"x":{"field":"g","type":"nominal"},"y":{"field":"q1","type":"quantitative"},"y2":{"field":"q3"}}},
{"data":{"name":"box"},"transform":[{"filter":"datum.p=='D'"}],"mark":{"type":"tick","color":"#9a9a9a","size":121,"thickness":4},"encoding":{"x":{"field":"g","type":"nominal"},"y":{"field":"med","type":"quantitative"}}},
{"data":{"name":"pts"},"transform":[{"filter":"datum.p=='D'"}],"mark":{"type":"point","filled":true,"color":"black","opacity":1},"encoding":{"x":{"field":"g","type":"nominal"},"xOffset":{"field":"l","type":"quantitative","scale":{"domain":[-6,6],"range":[36.26,147.26]}},"y":{"field":"v","type":"quantitative"},"shape":{"field":"g","type":"nominal","scale":{"domain":["CV","WV","WA"],"range":["circle","square","triangle-up"]},"legend":null},"size":{"condition":[{"test":"datum.g=='CV'","value":210},{"test":"datum.g=='WV'","value":225}],"value":320}}},
{"data":{"name":"sig"},"transform":[{"filter":"datum.p=='D'"}],"mark":{"type":"rule","strokeWidth":4,"strokeCap":"square"},"encoding":{"x":{"field":"from","type":"nominal"},"x2":{"field":"to"},"y":{"field":"top","type":"quantitative"},"color":{"condition":[{"test":"datum.c=='ca'","value":"#ff5a14"},{"test":"datum.c=='cv'","value":"#1a7892"}],"value":"#8489d4"}}},
{"data":{"name":"sig"},"transform":[{"filter":"datum.p=='D'"}],"mark":{"type":"rule","strokeWidth":4},"encoding":{"x":{"field":"from","type":"nominal"},"y":{"field":"top","type":"quantitative"},"y2":{"field":"l1"},"color":{"condition":[{"test":"datum.c=='ca'","value":"#ff5a14"},{"test":"datum.c=='cv'","value":"#1a7892"}],"value":"#8489d4"}}},
{"data":{"name":"sig"},"transform":[{"filter":"datum.p=='D'"}],"mark":{"type":"rule","strokeWidth":4},"encoding":{"x":{"field":"to","type":"nominal"},"y":{"field":"top","type":"quantitative"},"y2":{"field":"l2"},"color":{"condition":[{"test":"datum.c=='ca'","value":"#ff5a14"},{"test":"datum.c=='cv'","value":"#1a7892"}],"value":"#8489d4"}}},
{"data":{"name":"sig"},"transform":[{"filter":"datum.p=='D'&&datum.c=='ca'"}],"mark":{"type":"text","fontSize":25,"baseline":"alphabetic","dy":-8},"encoding":{"x":{"field":"to","type":"nominal","bandPosition":-0.5},"y":{"field":"top","type":"quantitative"},"text":{"field":"pv"},"color":{"value":"#ff5a14"}}},
{"data":{"name":"sig"},"transform":[{"filter":"datum.p=='D'&&datum.c!='ca'"}],"mark":{"type":"text","fontSize":25,"baseline":"alphabetic","dy":-8,"dx":17},"encoding":{"x":{"field":"to","type":"nominal","bandPosition":0},"y":{"field":"top","type":"quantitative"},"text":{"field":"pv"},"color":{"value":"#8489d4"}}},
{"data":{"name":"cats"},"mark":{"type":"rule","strokeWidth":2,"strokeCap":"square","color":"#1a1a1a"},"encoding":{"x":{"field":"c","type":"nominal","bandPosition":0.0478},"x2":{"field":"c","bandPosition":1.0096},"y":{"datum":-0.3728}}},
{"data":{"name":"cats"},"mark":{"type":"rule","strokeWidth":2,"strokeCap":"square","color":"#1a1a1a"},"encoding":{"x":{"field":"w","type":"nominal","bandPosition":0.1322},"x2":{"field":"w","bandPosition":2.1266},"y":{"datum":-0.3728}}},
{"data":{"name":"cats"},"mark":{"type":"tick","orient":"vertical","size":20.5,"thickness":2,"color":"#1a1a1a"},"encoding":{"x":{"field":"c","type":"nominal","bandPosition":0.0478},"y":{"datum":-0.3272}}},
{"data":{"name":"cats"},"mark":{"type":"tick","orient":"vertical","size":20.5,"thickness":2,"color":"#1a1a1a"},"encoding":{"x":{"field":"c","type":"nominal","bandPosition":1.0096},"y":{"datum":-0.3272}}},
{"data":{"name":"cats"},"mark":{"type":"tick","orient":"vertical","size":20.5,"thickness":2,"color":"#1a1a1a"},"encoding":{"x":{"field":"w","type":"nominal","bandPosition":0.1322},"y":{"datum":-0.3272}}},
{"data":{"name":"cats"},"mark":{"type":"tick","orient":"vertical","size":20.5,"thickness":2,"color":"#1a1a1a"},"encoding":{"x":{"field":"w","type":"nominal","bandPosition":2.1266},"y":{"datum":-0.3272}}},
{"data":{"name":"cats"},"mark":{"type":"text","fontSize":25,"baseline":"alphabetic"},"encoding":{"x":{"field":"c","type":"nominal","bandPosition":0.5},"y":{"datum":-0.5728},"text":{"value":"Control"}}},
{"data":{"name":"cats"},"mark":{"type":"text","fontSize":25,"baseline":"alphabetic"},"encoding":{"x":{"field":"w","type":"nominal","bandPosition":1.19},"y":{"datum":-0.5728},"text":{"value":"Warfarin"}}},
{"data":{"name":"cats"},"mark":{"type":"text","fontSize":65,"fontWeight":"bold","align":"left","baseline":"alphabetic"},"encoding":{"x":{"field":"c","type":"nominal","bandPosition":-1.0339},"y":{"datum":1.965},"text":{"value":"D"}}},
{"data":{"name":"cats"},"mark":{"type":"text","fontSize":25,"fontWeight":"bold","fontStyle":"italic","angle":270,"align":"left","baseline":"alphabetic","dx":-138.2},"encoding":{"x":{"field":"c","type":"nominal","bandPosition":-0.489},"y":{"datum":1},"text":{"value":"Tcf4/Gapdh"}}},
{"data":{"name":"cats"},"mark":{"type":"text","fontSize":25,"fontWeight":"bold","angle":270,"align":"left","baseline":"alphabetic","dx":6.2},"encoding":{"x":{"field":"c","type":"nominal","bandPosition":-0.489},"y":{"datum":1},"text":{"value":"expression"}}}
]},
{"width":1,"height":215,"data":{"values":[{}]},"mark":{"type":"text"},"encoding":{"text":{"value":""}}},
{"width":1,"height":215,"data":{"values":[{}]},"mark":{"type":"text"},"encoding":{"text":{"value":""}}},
{"width":610,"height":405,"resolve":{"scale":{"xOffset":"independent"}},"layer":[
{"data":{"name":"box"},"transform":[{"filter":"datum.p=='E'"}],"mark":{"type":"rule","color":"#9a9a9a","strokeWidth":4},"encoding":{"x":{"field":"g","type":"nominal","scale":{"domain":["CV","WV","WA"],"paddingInner":0,"paddingOuter":0.162},"axis":{"title":null,"labelAngle":0,"labelExpr":"datum.value=='WA'?'Anti-sclerostin Ab':'Vehicle'"}},"y":{"field":"min","type":"quantitative","scale":{"domain":[0,3],"nice":false},"axis":{"title":null,"values":[0,1,2,3],"format":"d"}},"y2":{"field":"max"}}},
{"data":{"name":"box"},"transform":[{"filter":"datum.p=='E'"},{"fold":["min","max"]}],"mark":{"type":"tick","color":"#9a9a9a","size":60,"thickness":4},"encoding":{"x":{"field":"g","type":"nominal"},"y":{"field":"value","type":"quantitative"}}},
{"data":{"name":"box"},"transform":[{"filter":"datum.p=='E'"}],"mark":{"type":"bar","fill":"white","stroke":"#9a9a9a","strokeWidth":4,"width":{"band":0.66}},"encoding":{"x":{"field":"g","type":"nominal"},"y":{"field":"q1","type":"quantitative"},"y2":{"field":"q3"}}},
{"data":{"name":"box"},"transform":[{"filter":"datum.p=='E'"}],"mark":{"type":"tick","color":"#9a9a9a","size":121,"thickness":4},"encoding":{"x":{"field":"g","type":"nominal"},"y":{"field":"med","type":"quantitative"}}},
{"data":{"name":"pts"},"transform":[{"filter":"datum.p=='E'"}],"mark":{"type":"point","filled":true,"color":"black","opacity":1},"encoding":{"x":{"field":"g","type":"nominal"},"xOffset":{"field":"l","type":"quantitative","scale":{"domain":[-6,6],"range":[36.26,147.26]}},"y":{"field":"v","type":"quantitative"},"shape":{"field":"g","type":"nominal","scale":{"domain":["CV","WV","WA"],"range":["circle","square","triangle-up"]},"legend":null},"size":{"condition":[{"test":"datum.g=='CV'","value":210},{"test":"datum.g=='WV'","value":225}],"value":320}}},
{"data":{"name":"sig"},"transform":[{"filter":"datum.p=='E'"}],"mark":{"type":"rule","strokeWidth":4,"strokeCap":"square"},"encoding":{"x":{"field":"from","type":"nominal"},"x2":{"field":"to"},"y":{"field":"top","type":"quantitative"},"color":{"condition":[{"test":"datum.c=='ca'","value":"#ff5a14"},{"test":"datum.c=='cv'","value":"#1a7892"}],"value":"#8489d4"}}},
{"data":{"name":"sig"},"transform":[{"filter":"datum.p=='E'"}],"mark":{"type":"rule","strokeWidth":4},"encoding":{"x":{"field":"from","type":"nominal"},"y":{"field":"top","type":"quantitative"},"y2":{"field":"l1"},"color":{"condition":[{"test":"datum.c=='ca'","value":"#ff5a14"},{"test":"datum.c=='cv'","value":"#1a7892"}],"value":"#8489d4"}}},
{"data":{"name":"sig"},"transform":[{"filter":"datum.p=='E'"}],"mark":{"type":"rule","strokeWidth":4},"encoding":{"x":{"field":"to","type":"nominal"},"y":{"field":"top","type":"quantitative"},"y2":{"field":"l2"},"color":{"condition":[{"test":"datum.c=='ca'","value":"#ff5a14"},{"test":"datum.c=='cv'","value":"#1a7892"}],"value":"#8489d4"}}},
{"data":{"name":"sig"},"transform":[{"filter":"datum.p=='E'&&datum.c=='ca'"}],"mark":{"type":"text","fontSize":25,"baseline":"alphabetic","dy":-8},"encoding":{"x":{"field":"to","type":"nominal","bandPosition":-0.5},"y":{"field":"top","type":"quantitative"},"text":{"field":"pv"},"color":{"value":"#ff5a14"}}},
{"data":{"name":"sig"},"transform":[{"filter":"datum.p=='E'&&datum.c!='ca'"}],"mark":{"type":"text","fontSize":25,"baseline":"alphabetic","dy":-8,"dx":17},"encoding":{"x":{"field":"to","type":"nominal","bandPosition":0},"y":{"field":"top","type":"quantitative"},"text":{"field":"pv"},"color":{"value":"#8489d4"}}},
{"data":{"name":"cats"},"mark":{"type":"rule","strokeWidth":2,"strokeCap":"square","color":"#1a1a1a"},"encoding":{"x":{"field":"c","type":"nominal","bandPosition":0.0478},"x2":{"field":"c","bandPosition":1.0096},"y":{"datum":-0.5593}}},
{"data":{"name":"cats"},"mark":{"type":"rule","strokeWidth":2,"strokeCap":"square","color":"#1a1a1a"},"encoding":{"x":{"field":"w","type":"nominal","bandPosition":0.1322},"x2":{"field":"w","bandPosition":2.1266},"y":{"datum":-0.5593}}},
{"data":{"name":"cats"},"mark":{"type":"tick","orient":"vertical","size":20.5,"thickness":2,"color":"#1a1a1a"},"encoding":{"x":{"field":"c","type":"nominal","bandPosition":0.0478},"y":{"datum":-0.4907}}},
{"data":{"name":"cats"},"mark":{"type":"tick","orient":"vertical","size":20.5,"thickness":2,"color":"#1a1a1a"},"encoding":{"x":{"field":"c","type":"nominal","bandPosition":1.0096},"y":{"datum":-0.4907}}},
{"data":{"name":"cats"},"mark":{"type":"tick","orient":"vertical","size":20.5,"thickness":2,"color":"#1a1a1a"},"encoding":{"x":{"field":"w","type":"nominal","bandPosition":0.1322},"y":{"datum":-0.4907}}},
{"data":{"name":"cats"},"mark":{"type":"tick","orient":"vertical","size":20.5,"thickness":2,"color":"#1a1a1a"},"encoding":{"x":{"field":"w","type":"nominal","bandPosition":2.1266},"y":{"datum":-0.4907}}},
{"data":{"name":"cats"},"mark":{"type":"text","fontSize":25,"baseline":"alphabetic"},"encoding":{"x":{"field":"c","type":"nominal","bandPosition":0.5},"y":{"datum":-0.8593},"text":{"value":"Control"}}},
{"data":{"name":"cats"},"mark":{"type":"text","fontSize":25,"baseline":"alphabetic"},"encoding":{"x":{"field":"w","type":"nominal","bandPosition":1.19},"y":{"datum":-0.8593},"text":{"value":"Warfarin"}}},
{"data":{"name":"cats"},"mark":{"type":"text","fontSize":65,"fontWeight":"bold","align":"left","baseline":"alphabetic"},"encoding":{"x":{"field":"c","type":"nominal","bandPosition":-0.9249},"y":{"datum":2.693},"text":{"value":"E"}}},
{"data":{"name":"cats"},"mark":{"type":"text","fontSize":25,"fontWeight":"bold","fontStyle":"italic","angle":270,"align":"left","baseline":"alphabetic","dx":-151.4},"encoding":{"x":{"field":"c","type":"nominal","bandPosition":-0.489},"y":{"datum":1.5},"text":{"value":"CycD1/Gapdh"}}},
{"data":{"name":"cats"},"mark":{"type":"text","fontSize":25,"fontWeight":"bold","angle":270,"align":"left","baseline":"alphabetic","dx":19.45},"encoding":{"x":{"field":"c","type":"nominal","bandPosition":-0.489},"y":{"datum":1.5},"text":{"value":"expression"}}}
]},
{"width":610,"height":405,"resolve":{"scale":{"xOffset":"independent"}},"layer":[
{"data":{"name":"box"},"transform":[{"filter":"datum.p=='F'"}],"mark":{"type":"rule","color":"#9a9a9a","strokeWidth":4},"encoding":{"x":{"field":"g","type":"nominal","scale":{"domain":["CV","WV","WA"],"paddingInner":0,"paddingOuter":0.162},"axis":{"title":null,"labelAngle":0,"labelExpr":"datum.value=='WA'?'Anti-sclerostin Ab':'Vehicle'"}},"y":{"field":"min","type":"quantitative","scale":{"domain":[0,2],"nice":false},"axis":{"title":null,"values":[0,0.5,1,1.5,2],"format":".1f"}},"y2":{"field":"max"}}},
{"data":{"name":"box"},"transform":[{"filter":"datum.p=='F'"},{"fold":["min","max"]}],"mark":{"type":"tick","color":"#9a9a9a","size":60,"thickness":4},"encoding":{"x":{"field":"g","type":"nominal"},"y":{"field":"value","type":"quantitative"}}},
{"data":{"name":"box"},"transform":[{"filter":"datum.p=='F'"}],"mark":{"type":"bar","fill":"white","stroke":"#9a9a9a","strokeWidth":4,"width":{"band":0.66}},"encoding":{"x":{"field":"g","type":"nominal"},"y":{"field":"q1","type":"quantitative"},"y2":{"field":"q3"}}},
{"data":{"name":"box"},"transform":[{"filter":"datum.p=='F'"}],"mark":{"type":"tick","color":"#9a9a9a","size":121,"thickness":4},"encoding":{"x":{"field":"g","type":"nominal"},"y":{"field":"med","type":"quantitative"}}},
{"data":{"name":"pts"},"transform":[{"filter":"datum.p=='F'"}],"mark":{"type":"point","filled":true,"color":"black","opacity":1},"encoding":{"x":{"field":"g","type":"nominal"},"xOffset":{"field":"l","type":"quantitative","scale":{"domain":[-6,6],"range":[36.26,147.26]}},"y":{"field":"v","type":"quantitative"},"shape":{"field":"g","type":"nominal","scale":{"domain":["CV","WV","WA"],"range":["circle","square","triangle-up"]},"legend":null},"size":{"condition":[{"test":"datum.g=='CV'","value":210},{"test":"datum.g=='WV'","value":225}],"value":320}}},
{"data":{"name":"sig"},"transform":[{"filter":"datum.p=='F'"}],"mark":{"type":"rule","strokeWidth":4,"strokeCap":"square"},"encoding":{"x":{"field":"from","type":"nominal"},"x2":{"field":"to"},"y":{"field":"top","type":"quantitative"},"color":{"condition":[{"test":"datum.c=='ca'","value":"#ff5a14"},{"test":"datum.c=='cv'","value":"#1a7892"}],"value":"#8489d4"}}},
{"data":{"name":"sig"},"transform":[{"filter":"datum.p=='F'"}],"mark":{"type":"rule","strokeWidth":4},"encoding":{"x":{"field":"from","type":"nominal"},"y":{"field":"top","type":"quantitative"},"y2":{"field":"l1"},"color":{"condition":[{"test":"datum.c=='ca'","value":"#ff5a14"},{"test":"datum.c=='cv'","value":"#1a7892"}],"value":"#8489d4"}}},
{"data":{"name":"sig"},"transform":[{"filter":"datum.p=='F'"}],"mark":{"type":"rule","strokeWidth":4},"encoding":{"x":{"field":"to","type":"nominal"},"y":{"field":"top","type":"quantitative"},"y2":{"field":"l2"},"color":{"condition":[{"test":"datum.c=='ca'","value":"#ff5a14"},{"test":"datum.c=='cv'","value":"#1a7892"}],"value":"#8489d4"}}},
{"data":{"name":"sig"},"transform":[{"filter":"datum.p=='F'&&datum.c=='ca'"}],"mark":{"type":"text","fontSize":25,"baseline":"alphabetic","dy":-8},"encoding":{"x":{"field":"to","type":"nominal","bandPosition":-0.5},"y":{"field":"top","type":"quantitative"},"text":{"field":"pv"},"color":{"value":"#ff5a14"}}},
{"data":{"name":"sig"},"transform":[{"filter":"datum.p=='F'&&datum.c!='ca'"}],"mark":{"type":"text","fontSize":25,"baseline":"alphabetic","dy":-8,"dx":17},"encoding":{"x":{"field":"to","type":"nominal","bandPosition":0},"y":{"field":"top","type":"quantitative"},"text":{"field":"pv"},"color":{"value":"#8489d4"}}},
{"data":{"name":"cats"},"mark":{"type":"rule","strokeWidth":2,"strokeCap":"square","color":"#1a1a1a"},"encoding":{"x":{"field":"c","type":"nominal","bandPosition":0.0478},"x2":{"field":"c","bandPosition":1.0096},"y":{"datum":-0.3728}}},
{"data":{"name":"cats"},"mark":{"type":"rule","strokeWidth":2,"strokeCap":"square","color":"#1a1a1a"},"encoding":{"x":{"field":"w","type":"nominal","bandPosition":0.1322},"x2":{"field":"w","bandPosition":2.1266},"y":{"datum":-0.3728}}},
{"data":{"name":"cats"},"mark":{"type":"tick","orient":"vertical","size":20.5,"thickness":2,"color":"#1a1a1a"},"encoding":{"x":{"field":"c","type":"nominal","bandPosition":0.0478},"y":{"datum":-0.3272}}},
{"data":{"name":"cats"},"mark":{"type":"tick","orient":"vertical","size":20.5,"thickness":2,"color":"#1a1a1a"},"encoding":{"x":{"field":"c","type":"nominal","bandPosition":1.0096},"y":{"datum":-0.3272}}},
{"data":{"name":"cats"},"mark":{"type":"tick","orient":"vertical","size":20.5,"thickness":2,"color":"#1a1a1a"},"encoding":{"x":{"field":"w","type":"nominal","bandPosition":0.1322},"y":{"datum":-0.3272}}},
{"data":{"name":"cats"},"mark":{"type":"tick","orient":"vertical","size":20.5,"thickness":2,"color":"#1a1a1a"},"encoding":{"x":{"field":"w","type":"nominal","bandPosition":2.1266},"y":{"datum":-0.3272}}},
{"data":{"name":"cats"},"mark":{"type":"text","fontSize":25,"baseline":"alphabetic"},"encoding":{"x":{"field":"c","type":"nominal","bandPosition":0.5},"y":{"datum":-0.5728},"text":{"value":"Control"}}},
{"data":{"name":"cats"},"mark":{"type":"text","fontSize":25,"baseline":"alphabetic"},"encoding":{"x":{"field":"w","type":"nominal","bandPosition":1.19},"y":{"datum":-0.5728},"text":{"value":"Warfarin"}}},
{"data":{"name":"cats"},"mark":{"type":"text","fontSize":65,"fontWeight":"bold","align":"left","baseline":"alphabetic"},"encoding":{"x":{"field":"c","type":"nominal","bandPosition":-1.0203},"y":{"datum":1.795},"text":{"value":"F"}}},
{"data":{"name":"cats"},"mark":{"type":"text","fontSize":25,"fontWeight":"bold","fontStyle":"italic","angle":270,"align":"left","baseline":"alphabetic","dx":-132.7},"encoding":{"x":{"field":"c","type":"nominal","bandPosition":-0.489},"y":{"datum":1},"text":{"value":"Alp/Gapdh"}}},
{"data":{"name":"cats"},"mark":{"type":"text","fontSize":25,"fontWeight":"bold","angle":270,"align":"left","baseline":"alphabetic","dx":0.65},"encoding":{"x":{"field":"c","type":"nominal","bandPosition":-0.489},"y":{"datum":1},"text":{"value":"expression"}}}
]},
{"width":1,"height":198,"data":{"values":[{}]},"mark":{"type":"text"},"encoding":{"text":{"value":""}}},
{"width":1,"height":198,"data":{"values":[{}]},"mark":{"type":"text"},"encoding":{"text":{"value":""}}},
{"width":610,"height":405,"resolve":{"scale":{"xOffset":"independent"}},"layer":[
{"data":{"name":"box"},"transform":[{"filter":"datum.p=='G'"}],"mark":{"type":"rule","color":"#9a9a9a","strokeWidth":4},"encoding":{"x":{"field":"g","type":"nominal","scale":{"domain":["CV","WV","WA"],"paddingInner":0,"paddingOuter":0.162},"axis":{"title":null,"labelAngle":0,"labelExpr":"datum.value=='WA'?'Anti-sclerostin Ab':'Vehicle'"}},"y":{"field":"min","type":"quantitative","scale":{"domain":[0,2],"nice":false},"axis":{"title":null,"values":[0,0.5,1,1.5,2],"format":".1f"}},"y2":{"field":"max"}}},
{"data":{"name":"box"},"transform":[{"filter":"datum.p=='G'"},{"fold":["min","max"]}],"mark":{"type":"tick","color":"#9a9a9a","size":60,"thickness":4},"encoding":{"x":{"field":"g","type":"nominal"},"y":{"field":"value","type":"quantitative"}}},
{"data":{"name":"box"},"transform":[{"filter":"datum.p=='G'"}],"mark":{"type":"bar","fill":"white","stroke":"#9a9a9a","strokeWidth":4,"width":{"band":0.66}},"encoding":{"x":{"field":"g","type":"nominal"},"y":{"field":"q1","type":"quantitative"},"y2":{"field":"q3"}}},
{"data":{"name":"box"},"transform":[{"filter":"datum.p=='G'"}],"mark":{"type":"tick","color":"#9a9a9a","size":121,"thickness":4},"encoding":{"x":{"field":"g","type":"nominal"},"y":{"field":"med","type":"quantitative"}}},
{"data":{"name":"pts"},"transform":[{"filter":"datum.p=='G'"}],"mark":{"type":"point","filled":true,"color":"black","opacity":1},"encoding":{"x":{"field":"g","type":"nominal"},"xOffset":{"field":"l","type":"quantitative","scale":{"domain":[-6,6],"range":[36.26,147.26]}},"y":{"field":"v","type":"quantitative"},"shape":{"field":"g","type":"nominal","scale":{"domain":["CV","WV","WA"],"range":["circle","square","triangle-up"]},"legend":null},"size":{"condition":[{"test":"datum.g=='CV'","value":210},{"test":"datum.g=='WV'","value":225}],"value":320}}},
{"data":{"name":"sig"},"transform":[{"filter":"datum.p=='G'"}],"mark":{"type":"rule","strokeWidth":4,"strokeCap":"square"},"encoding":{"x":{"field":"from","type":"nominal"},"x2":{"field":"to"},"y":{"field":"top","type":"quantitative"},"color":{"condition":[{"test":"datum.c=='ca'","value":"#ff5a14"},{"test":"datum.c=='cv'","value":"#1a7892"}],"value":"#8489d4"}}},
{"data":{"name":"sig"},"transform":[{"filter":"datum.p=='G'"}],"mark":{"type":"rule","strokeWidth":4},"encoding":{"x":{"field":"from","type":"nominal"},"y":{"field":"top","type":"quantitative"},"y2":{"field":"l1"},"color":{"condition":[{"test":"datum.c=='ca'","value":"#ff5a14"},{"test":"datum.c=='cv'","value":"#1a7892"}],"value":"#8489d4"}}},
{"data":{"name":"sig"},"transform":[{"filter":"datum.p=='G'"}],"mark":{"type":"rule","strokeWidth":4},"encoding":{"x":{"field":"to","type":"nominal"},"y":{"field":"top","type":"quantitative"},"y2":{"field":"l2"},"color":{"condition":[{"test":"datum.c=='ca'","value":"#ff5a14"},{"test":"datum.c=='cv'","value":"#1a7892"}],"value":"#8489d4"}}},
{"data":{"name":"sig"},"transform":[{"filter":"datum.p=='G'&&datum.c=='ca'"}],"mark":{"type":"text","fontSize":25,"baseline":"alphabetic","dy":-8},"encoding":{"x":{"field":"to","type":"nominal","bandPosition":-0.5},"y":{"field":"top","type":"quantitative"},"text":{"field":"pv"},"color":{"value":"#ff5a14"}}},
{"data":{"name":"sig"},"transform":[{"filter":"datum.p=='G'&&datum.c!='ca'"}],"mark":{"type":"text","fontSize":25,"baseline":"alphabetic","dy":-8,"dx":17},"encoding":{"x":{"field":"to","type":"nominal","bandPosition":0},"y":{"field":"top","type":"quantitative"},"text":{"field":"pv"},"color":{"value":"#8489d4"}}},
{"data":{"name":"cats"},"mark":{"type":"rule","strokeWidth":2,"strokeCap":"square","color":"#1a1a1a"},"encoding":{"x":{"field":"c","type":"nominal","bandPosition":0.0478},"x2":{"field":"c","bandPosition":1.0096},"y":{"datum":-0.3728}}},
{"data":{"name":"cats"},"mark":{"type":"rule","strokeWidth":2,"strokeCap":"square","color":"#1a1a1a"},"encoding":{"x":{"field":"w","type":"nominal","bandPosition":0.1322},"x2":{"field":"w","bandPosition":2.1266},"y":{"datum":-0.3728}}},
{"data":{"name":"cats"},"mark":{"type":"tick","orient":"vertical","size":20.5,"thickness":2,"color":"#1a1a1a"},"encoding":{"x":{"field":"c","type":"nominal","bandPosition":0.0478},"y":{"datum":-0.3272}}},
{"data":{"name":"cats"},"mark":{"type":"tick","orient":"vertical","size":20.5,"thickness":2,"color":"#1a1a1a"},"encoding":{"x":{"field":"c","type":"nominal","bandPosition":1.0096},"y":{"datum":-0.3272}}},
{"data":{"name":"cats"},"mark":{"type":"tick","orient":"vertical","size":20.5,"thickness":2,"color":"#1a1a1a"},"encoding":{"x":{"field":"w","type":"nominal","bandPosition":0.1322},"y":{"datum":-0.3272}}},
{"data":{"name":"cats"},"mark":{"type":"tick","orient":"vertical","size":20.5,"thickness":2,"color":"#1a1a1a"},"encoding":{"x":{"field":"w","type":"nominal","bandPosition":2.1266},"y":{"datum":-0.3272}}},
{"data":{"name":"cats"},"mark":{"type":"text","fontSize":25,"baseline":"alphabetic"},"encoding":{"x":{"field":"c","type":"nominal","bandPosition":0.5},"y":{"datum":-0.5728},"text":{"value":"Control"}}},
{"data":{"name":"cats"},"mark":{"type":"text","fontSize":25,"baseline":"alphabetic"},"encoding":{"x":{"field":"w","type":"nominal","bandPosition":1.19},"y":{"datum":-0.5728},"text":{"value":"Warfarin"}}},
{"data":{"name":"cats"},"mark":{"type":"text","fontSize":65,"fontWeight":"bold","align":"left","baseline":"alphabetic"},"encoding":{"x":{"field":"c","type":"nominal","bandPosition":-0.9331},"y":{"datum":1.674},"text":{"value":"G"}}},
{"data":{"name":"cats"},"mark":{"type":"text","fontSize":25,"fontWeight":"bold","fontStyle":"italic","angle":270,"align":"left","baseline":"alphabetic","dx":-142.4},"encoding":{"x":{"field":"c","type":"nominal","bandPosition":-0.489},"y":{"datum":1},"text":{"value":"Sox9/Gapdh"}}},
{"data":{"name":"cats"},"mark":{"type":"text","fontSize":25,"fontWeight":"bold","angle":270,"align":"left","baseline":"alphabetic","dx":10.45},"encoding":{"x":{"field":"c","type":"nominal","bandPosition":-0.489},"y":{"datum":1},"text":{"value":"expression"}}}
]},
{"width":610,"height":405,"resolve":{"scale":{"xOffset":"independent"}},"layer":[
{"data":{"name":"box"},"transform":[{"filter":"datum.p=='H'"}],"mark":{"type":"rule","strokeWidth":4},"encoding":{"x":{"field":"g","type":"nominal","scale":{"domain":["CV","WV","WA"],"paddingInner":0,"paddingOuter":0.162},"axis":{"title":null,"labelAngle":0,"labelExpr":"datum.value=='WA'?'Anti-sclerostin Ab':'Vehicle'"}},"y":{"field":"min","type":"quantitative","scale":{"domain":[0,2],"nice":false},"axis":{"title":null,"values":[0,0.5,1,1.5,2],"format":".1f"}},"y2":{"field":"max"},"color":{"condition":[{"test":"datum.g=='CV'","value":"#d6d6d6"},{"test":"datum.g=='WA'","value":"#7a7a7a"}],"value":"#9a9a9a"}}},
{"data":{"name":"box"},"transform":[{"filter":"datum.p=='H'"},{"fold":["min","max"]}],"mark":{"type":"tick","size":60,"thickness":4},"encoding":{"x":{"field":"g","type":"nominal"},"y":{"field":"value","type":"quantitative"},"color":{"condition":[{"test":"datum.g=='CV'","value":"#d6d6d6"},{"test":"datum.g=='WA'","value":"#7a7a7a"}],"value":"#9a9a9a"}}},
{"data":{"name":"box"},"transform":[{"filter":"datum.p=='H'"}],"mark":{"type":"bar","fill":"white","strokeWidth":4,"width":{"band":0.66}},"encoding":{"x":{"field":"g","type":"nominal"},"y":{"field":"q1","type":"quantitative"},"y2":{"field":"q3"},"stroke":{"condition":[{"test":"datum.g=='CV'","value":"#d6d6d6"},{"test":"datum.g=='WA'","value":"#7a7a7a"}],"value":"#9a9a9a"}}},
{"data":{"name":"box"},"transform":[{"filter":"datum.p=='H'"}],"mark":{"type":"tick","size":121,"thickness":4},"encoding":{"x":{"field":"g","type":"nominal"},"y":{"field":"med","type":"quantitative"},"color":{"condition":[{"test":"datum.g=='CV'","value":"#d6d6d6"},{"test":"datum.g=='WA'","value":"#7a7a7a"}],"value":"#9a9a9a"}}},
{"data":{"name":"pts"},"transform":[{"filter":"datum.p=='H'"}],"mark":{"type":"point","filled":true,"color":"black","opacity":1},"encoding":{"x":{"field":"g","type":"nominal"},"xOffset":{"field":"l","type":"quantitative","scale":{"domain":[-6,6],"range":[36.26,147.26]}},"y":{"field":"v","type":"quantitative"},"shape":{"field":"g","type":"nominal","scale":{"domain":["CV","WV","WA"],"range":["circle","square","triangle-up"]},"legend":null},"size":{"condition":[{"test":"datum.g=='CV'","value":210},{"test":"datum.g=='WV'","value":225}],"value":320}}},
{"data":{"name":"cats"},"mark":{"type":"rule","strokeWidth":2,"strokeCap":"square","color":"#1a1a1a"},"encoding":{"x":{"field":"c","type":"nominal","bandPosition":0.0478},"x2":{"field":"c","bandPosition":1.0096},"y":{"datum":-0.3728}}},
{"data":{"name":"cats"},"mark":{"type":"rule","strokeWidth":2,"strokeCap":"square","color":"#1a1a1a"},"encoding":{"x":{"field":"w","type":"nominal","bandPosition":0.1322},"x2":{"field":"w","bandPosition":2.1266},"y":{"datum":-0.3728}}},
{"data":{"name":"cats"},"mark":{"type":"tick","orient":"vertical","size":20.5,"thickness":2,"color":"#1a1a1a"},"encoding":{"x":{"field":"c","type":"nominal","bandPosition":0.0478},"y":{"datum":-0.3272}}},
{"data":{"name":"cats"},"mark":{"type":"tick","orient":"vertical","size":20.5,"thickness":2,"color":"#1a1a1a"},"encoding":{"x":{"field":"c","type":"nominal","bandPosition":1.0096},"y":{"datum":-0.3272}}},
{"data":{"name":"cats"},"mark":{"type":"tick","orient":"vertical","size":20.5,"thickness":2,"color":"#1a1a1a"},"encoding":{"x":{"field":"w","type":"nominal","bandPosition":0.1322},"y":{"datum":-0.3272}}},
{"data":{"name":"cats"},"mark":{"type":"tick","orient":"vertical","size":20.5,"thickness":2,"color":"#1a1a1a"},"encoding":{"x":{"field":"w","type":"nominal","bandPosition":2.1266},"y":{"datum":-0.3272}}},
{"data":{"name":"cats"},"mark":{"type":"text","fontSize":25,"baseline":"alphabetic"},"encoding":{"x":{"field":"c","type":"nominal","bandPosition":0.5},"y":{"datum":-0.5728},"text":{"value":"Control"}}},
{"data":{"name":"cats"},"mark":{"type":"text","fontSize":25,"baseline":"alphabetic"},"encoding":{"x":{"field":"w","type":"nominal","bandPosition":1.19},"y":{"datum":-0.5728},"text":{"value":"Warfarin"}}},
{"data":{"name":"cats"},"mark":{"type":"text","fontSize":65,"fontWeight":"bold","align":"left","baseline":"alphabetic"},"encoding":{"x":{"field":"c","type":"nominal","bandPosition":-1.0339},"y":{"datum":1.674},"text":{"value":"H"}}},
{"data":{"name":"cats"},"mark":{"type":"text","fontSize":25,"fontWeight":"bold","fontStyle":"italic","angle":270,"align":"left","baseline":"alphabetic","dx":-147.3},"encoding":{"x":{"field":"c","type":"nominal","bandPosition":-0.489},"y":{"datum":1},"text":{"value":"Bmp2/Gapdh"}}},
{"data":{"name":"cats"},"mark":{"type":"text","fontSize":25,"fontWeight":"bold","angle":270,"align":"left","baseline":"alphabetic","dx":15.25},"encoding":{"x":{"field":"c","type":"nominal","bandPosition":-0.489},"y":{"datum":1},"text":{"value":"expression"}}}
]}
],
"config":{
"font":"Liberation Sans",
"view":{"stroke":null},
"text":{"color":"black"},
"axis":{"domainColor":"black","domainWidth":3,"tickColor":"black","tickWidth":3,"tickSize":10,"labelColor":"black","labelFontWeight":"bold","labelFont":"Liberation Sans","grid":false},
"axisX":{"labelFontSize":23,"labelPadding":5,"labelLimit":0},
"axisY":{"labelFontSize":24,"labelPadding":2}
}
}
